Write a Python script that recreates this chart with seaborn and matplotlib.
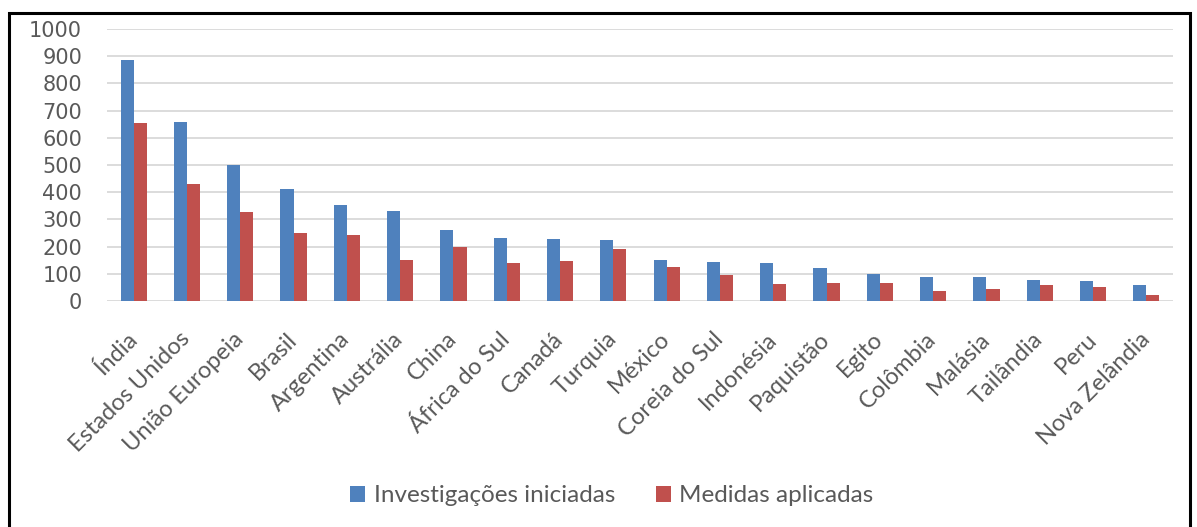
import matplotlib
matplotlib.use("Agg")
import matplotlib.pyplot as plt
import seaborn as sns
import pandas as pd
from matplotlib.patches import Rectangle

categories = ["Índia", "Estados Unidos", "União Europeia", "Brasil", "Argentina",
              "Austrália", "China", "África do Sul", "Canadá", "Turquia", "México",
              "Coreia do Sul", "Indonésia", "Paquistão", "Egito", "Colômbia",
              "Malásia", "Tailândia", "Peru", "Nova Zelândia"]
investigacoes = [885, 659, 500, 410, 353, 330, 261, 231, 228, 223, 152, 143,
                 138, 121, 98, 88, 88, 79, 75, 60]
medidas = [654, 429, 326, 249, 242, 152, 200, 138, 147, 190, 125, 97,
           61, 65, 65, 38, 45, 60, 52, 23]
series_names = ["Investigações iniciadas", "Medidas aplicadas"]
yticks = list(range(0, 1001, 100))

df = pd.DataFrame({
    "pais": categories * 2,
    "valor": investigacoes + medidas,
    "serie": [series_names[0]] * len(categories) + [series_names[1]] * len(categories),
})

sns.set_theme(style="white")
plt.rcParams['font.family'] = ['Lato', 'DejaVu Sans']
txt = "#595959"

fig = plt.figure(figsize=(11.97, 5.27), dpi=100)
ax = fig.add_axes([107/1197, 1 - 301/527, (1173 - 107)/1197, (301 - 29)/527])

sns.barplot(data=df, x="pais", y="valor", hue="serie", order=categories,
            hue_order=series_names, palette=["#4F81BD", "#C0504D"],
            saturation=1, width=0.49, dodge=True, ax=ax, legend=True,
            linewidth=0, errorbar=None)

ax.set_ylim(0, 1000)
ax.set_yticks(yticks)
ax.set_yticklabels([str(v) for v in yticks], fontsize=15, color=txt,
                   family=['DejaVu Sans'])
ax.yaxis.grid(True, color="#d9d9d9", linewidth=1.3)
ax.set_axisbelow(True)
for s in ax.spines.values():
    s.set_visible(False)
ax.tick_params(axis="both", length=0)
ax.tick_params(axis="y", pad=18)
ax.set_xlabel("")
ax.set_ylabel("")
ax.set_xlim(-0.5, len(categories) - 0.5)
ax.set_xticks(range(len(categories)))
ax.set_xticklabels(categories, rotation=45, ha="right", va="center",
                   rotation_mode="anchor", fontsize=17, color=txt)
ax.tick_params(axis="x", pad=25)

handles, labels = ax.get_legend_handles_labels()
ax.get_legend().remove()
fig.legend(handles, labels, loc="center", bbox_to_anchor=(612/1197, 1 - 496/527),
           ncol=2, frameon=False, fontsize=17.5, labelcolor=txt,
           handlelength=0.6, handleheight=0.6, handletextpad=0.35, columnspacing=1.7)

fig.patches.append(Rectangle((9/1197, -0.05), (1190 - 9)/1197, (1 - 13/527) + 0.05,
                             transform=fig.transFigure, fill=False,
                             edgecolor="black", linewidth=2.2))

fig.savefig("out.png", dpi=100)
